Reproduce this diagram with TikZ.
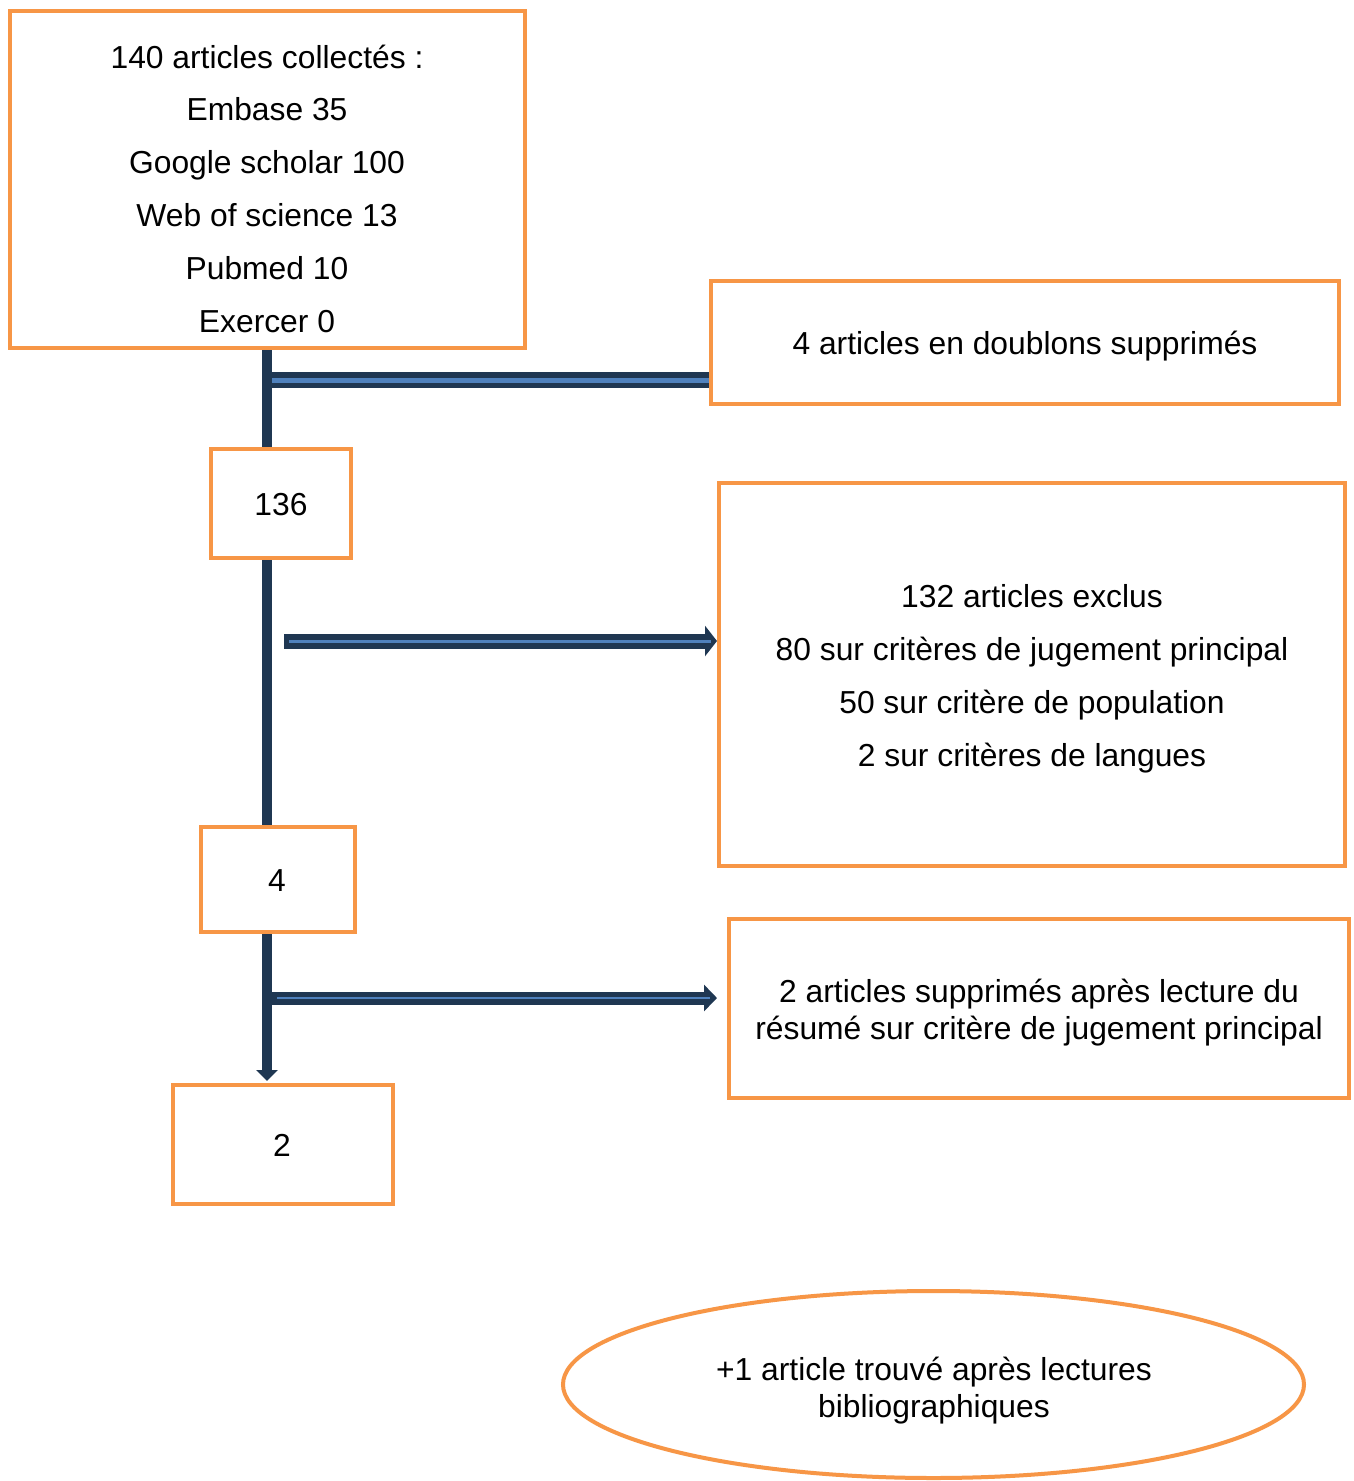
\documentclass[tikz,border=0pt]{standalone}
\usepackage{fontspec}
\setmainfont{Liberation Sans}
\usetikzlibrary{arrows.meta,shapes.geometric}
\definecolor{navy}{HTML}{1F3752}
\definecolor{lblue}{HTML}{4F81BD}
\definecolor{orng}{HTML}{F79646}
\begin{document}
\begin{tikzpicture}[x=1pt,y=-1pt,
 box/.style={draw=orng,line width=4pt,rectangle,inner sep=0pt},
 oval/.style={draw=orng,line width=4pt,ellipse,inner sep=0pt},
 txt/.style={font=\fontsize{31.8}{38}\selectfont,anchor=base,inner sep=0pt},
 trunkline/.style={draw=navy,line width=10pt},
]
\useasboundingbox (0,0) rectangle (1353,1481);
\fill[white] (0,0) rectangle (1353,1481);
% boxes
\node[box,minimum width=515pt,minimum height=337pt] (b1) at (267.5,179.5) {};
\node[box,minimum width=628pt,minimum height=123pt] (bdup) at (1025,342.5) {};
\node[box,minimum width=140pt,minimum height=109pt] (b136) at (281,503.5) {};
\node[box,minimum width=626pt,minimum height=383pt] (bexc) at (1032,674.5) {};
\node[box,minimum width=154pt,minimum height=105pt] (b4) at (278,879.5) {};
\node[box,minimum width=620pt,minimum height=179pt] (bsup) at (1039,1008.5) {};
\node[box,minimum width=220pt,minimum height=119pt] (b2) at (283,1144.5) {};
\node[oval,minimum width=741pt,minimum height=187pt] (ell) at (933.5,1384.5) {};
% texts
\node[txt] (t1a) at (267,68) {140 articles collectés :};
\node[txt] (t1b) at (267,120) {Embase 35};
\node[txt] (t1c) at (267,173) {Google scholar 100};
\node[txt] (t1d) at (267,226) {Web of science 13};
\node[txt] (t1e) at (267,279) {Pubmed 10};
\node[txt] (t1f) at (267,332) {Exercer 0};
\node[txt] (tdup) at (1025,354) {4 articles en doublons supprimés};
\node[txt] (t136) at (281,515) {136};
\node[txt] (tea) at (1032,607) {132 articles exclus};
\node[txt] (teb) at (1032,660) {80 sur critères de jugement principal};
\node[txt] (tec) at (1032,713) {50 sur critère de population};
\node[txt] (ted) at (1032,766) {2 sur critères de langues};
\node[txt] (t4) at (277,891) {4};
\node[txt] (tsa) at (1039,1002) {2 articles supprimés après lecture du};
\node[txt] (tsb) at (1039,1039) {résumé sur critère de jugement principal};
\node[txt] (t2) at (282,1156) {2};
\node[txt] (tla) at (934,1380) {+1 article trouvé après lectures};
\node[txt] (tlb) at (934,1417) {bibliographiques};
% trunk
\coordinate (tx) at (267,0);
\draw[trunkline] (b1.south -| tx) -- (b136.north -| tx);
\draw[trunkline] (b136.south -| tx) -- (b4.north -| tx);
\draw[trunkline,-{Triangle[length=11pt,width=21pt]}] (b4.south -| tx) -- ([yshift=2pt]b2.north -| tx);
% branch 1
\coordinate (a1s) at (272,380);
\draw[navy,line width=16pt] (a1s) -- (bdup.west |- a1s);
\draw[lblue,line width=5pt] (a1s) -- (bdup.west |- a1s);
% branch 2
\coordinate (a2s) at (284,641);
\draw[navy,line width=15pt,-{Triangle[length=12pt,width=30pt]}] (a2s) -- (bexc.west |- a2s);
\draw[lblue,line width=3pt] ([xshift=5pt]a2s) -- ([xshift=-6pt]bexc.west |- a2s);
% branch 3
\coordinate (a3s) at (272,998);
\draw[navy,line width=13pt,-{Triangle[length=13pt,width=26pt]}] (a3s) -- ([xshift=-10pt]bsup.west |- a3s);
\draw[lblue,line width=1.5pt] ([xshift=5pt]a3s) -- ([xshift=-17pt]bsup.west |- a3s);
\end{tikzpicture}
\end{document}
